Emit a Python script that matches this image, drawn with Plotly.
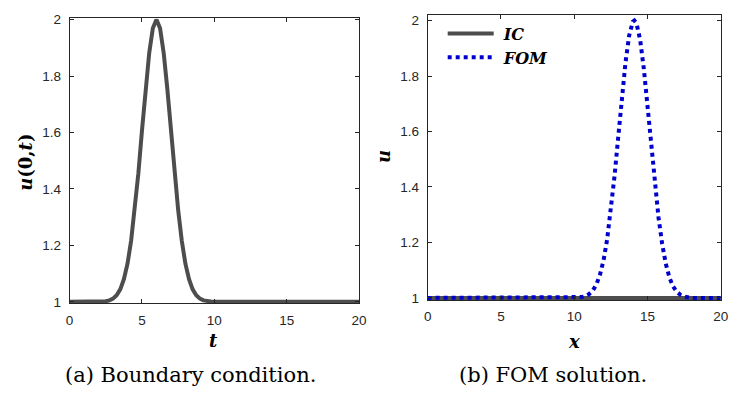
import plotly.graph_objects as go

W, H = 733, 397

# ---- data ----
t_bc = [0, 1, 2, 2.25, 2.5, 2.75, 3, 3.25, 3.5, 3.75, 4, 4.25, 4.5, 4.75, 5, 5.25, 5.5, 5.75,
        6, 6.25, 6.5, 6.75, 7, 7.25, 7.5, 7.75, 8, 8.25, 8.5, 8.75, 9, 9.25, 9.5, 9.75, 10,
        12, 14, 16, 18, 20]
u_bc = [1.0, 1.0, 1.0, 1.001, 1.002, 1.005, 1.011, 1.023, 1.044, 1.080, 1.135, 1.216, 1.325,
        1.455, 1.607, 1.755, 1.882, 1.969,
        2.0, 1.969, 1.882, 1.755, 1.607, 1.455, 1.325, 1.216, 1.135, 1.080, 1.044, 1.023,
        1.011, 1.005, 1.002, 1.001, 1.0,
        1.0, 1.0, 1.0, 1.0, 1.0]

x_ic = [0, 5, 10, 15, 20]
u_ic = [1.0, 1.0, 1.0, 1.0, 1.0]

x_fom = [0, 2, 4, 6, 8, 10, 10.5, 10.75, 11, 11.25, 11.5, 11.75, 12, 12.25, 12.5, 12.75, 13,
         13.25, 13.5, 13.75, 14, 14.1, 14.25, 14.5, 14.75, 15, 15.25, 15.5, 15.75, 16, 16.25,
         16.5, 16.75, 17, 17.25, 17.5, 17.75, 18, 19, 20]
u_fom = [1.0, 1.0, 1.0, 1.0, 1.0, 1.0, 1.003, 1.006, 1.013, 1.025, 1.047, 1.082, 1.135, 1.212,
         1.313, 1.438, 1.578, 1.721, 1.849, 1.946, 1.996, 2.0, 1.990, 1.930, 1.826, 1.693,
         1.549, 1.411, 1.291, 1.195, 1.123, 1.073, 1.041, 1.022, 1.011, 1.005, 1.002, 1.0,
         1.0, 1.0]

x_ticks = [0, 5, 10, 15, 20]
y_ticks = [1, 1.2, 1.4, 1.6, 1.8, 2]
y_ticklabels = ["1", "1.2", "1.4", "1.6", "1.8", "2"]

GRAY = "#4d4d4d"
BLUE = "#0000cc"
AX = "#262626"

fig = go.Figure()
fig.add_trace(go.Scatter(x=t_bc, y=u_bc, mode="lines", line=dict(color=GRAY, width=4),
                         showlegend=False, xaxis="x", yaxis="y"))
fig.add_trace(go.Scatter(x=x_ic, y=u_ic, mode="lines", line=dict(color=GRAY, width=4),
                         name="\u00a0<b><i>IC</i></b>", xaxis="x2", yaxis="y2"))
fig.add_trace(go.Scatter(x=x_fom, y=u_fom, mode="lines", line=dict(color=BLUE, width=4, dash="dot"),
                         name="\u00a0<b><i>FOM</i></b>", xaxis="x2", yaxis="y2"))


def px_x(p):
    return p / W


def px_y(p):
    return (H - p) / H


# left axes: x 0->66.7px, 20->361px ; y 1->305px, 2->14px
ppu_l = (305 - 14) / 1.0
yl_lo, yl_hi = 0.994, 2.004
dom_l_bot = px_y(305 + (1 - yl_lo) * ppu_l)
dom_l_top = px_y(14 - (yl_hi - 2) * ppu_l)

# right axes: x 0->430.7, 20->728.7 ; y 1->301, 2->15
ppu_r = (301 - 15) / 1.0
yr_lo, yr_hi = 0.992, 2.02
dom_r_bot = px_y(301 + (1 - yr_lo) * ppu_r)
dom_r_top = px_y(15 - (yr_hi - 2) * ppu_r)

axcommon = dict(showline=True, linecolor=AX, linewidth=1, mirror="ticks", ticks="inside",
                ticklen=4, tickcolor=AX, tickwidth=1, showgrid=False, zeroline=False,
                tickfont=dict(family="Liberation Sans, Arial", size=13.5, color=AX))
xcommon = dict(ticklabelstandoff=4, **axcommon)
ycommon = dict(ticklabelstandoff=5, **axcommon)

fig.update_layout(
    width=W, height=H, margin=dict(l=0, r=0, t=0, b=0),
    paper_bgcolor="white", plot_bgcolor="white",
    xaxis=dict(domain=[px_x(66.7), px_x(361)], range=[0, 20], tickvals=x_ticks, anchor="y", **xcommon),
    yaxis=dict(domain=[dom_l_bot, dom_l_top], range=[yl_lo, yl_hi], tickvals=y_ticks,
               ticktext=y_ticklabels, anchor="x", **ycommon),
    xaxis2=dict(domain=[px_x(430.7), px_x(728.7)], range=[0, 20], tickvals=x_ticks, anchor="y2", **xcommon),
    yaxis2=dict(domain=[dom_r_bot, dom_r_top], range=[yr_lo, yr_hi], tickvals=y_ticks,
                ticktext=y_ticklabels, anchor="x2", **ycommon),
    showlegend=True,
    legend=dict(x=px_x(446), y=px_y(11), xanchor="left", yanchor="top", bgcolor="rgba(0,0,0,0)",
                borderwidth=0, itemwidth=46, tracegroupgap=0,
                font=dict(family="DejaVu Serif", size=16, color="black")),
)

serif = "DejaVu Serif"
ann = [
    dict(text="<b><i>u</i>(0,<i>t</i>)</b>", x=px_x(21), y=px_y(161), textangle=-90,
         font=dict(family=serif, size=18, color="black")),
    dict(text="<b><i>t</i></b>", x=px_x(213), y=px_y(345), font=dict(family=serif, size=18, color="black")),
    dict(text="<b><i>x</i></b>", x=px_x(579.5), y=px_y(346), font=dict(family=serif, size=18, color="black")),
    dict(text="<b><i>u</i></b>", x=px_x(386), y=px_y(155), textangle=-90,
         font=dict(family=serif, size=18, color="black")),
    dict(text="(a) Boundary condition.", x=px_x(190), y=px_y(381),
         font=dict(family=serif, size=21, color="black")),
    dict(text="(b) FOM solution.", x=px_x(558.5), y=px_y(381),
         font=dict(family=serif, size=21, color="black")),
]
for a in ann:
    a.update(xref="paper", yref="paper", xanchor="center", yanchor="middle", showarrow=False)
fig.update_layout(annotations=ann)

fig.write_html("out.html")
